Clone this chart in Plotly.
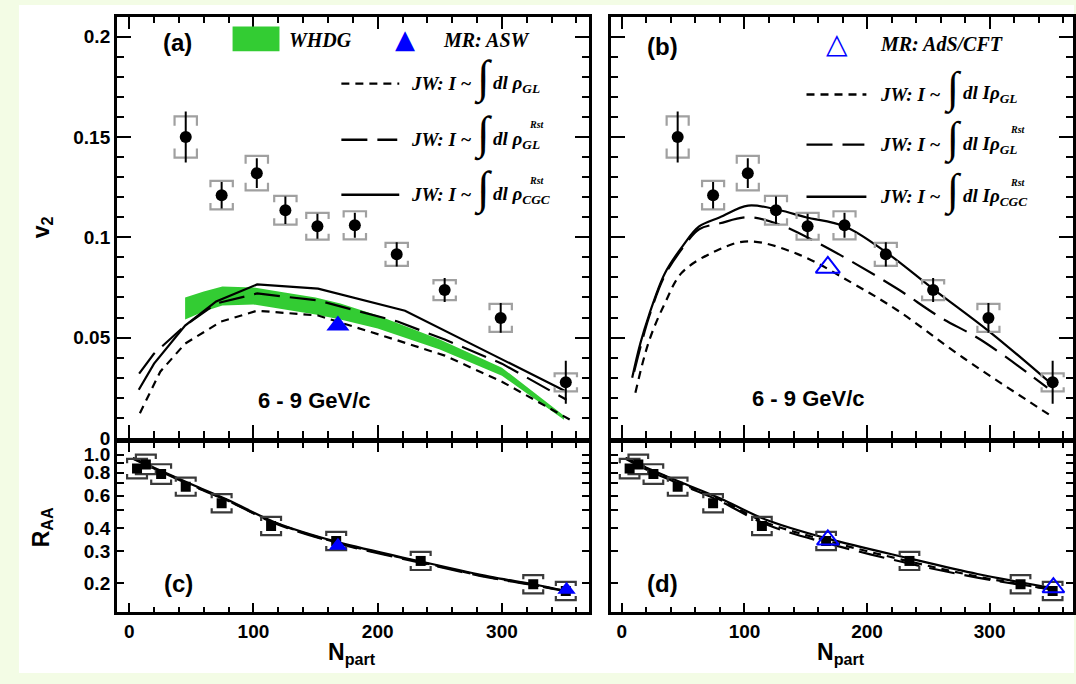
import math
import plotly.graph_objects as go

W, H = 1076, 684

# ---------------- data ----------------
npart_v2 = [45.5, 74.4, 102.7, 125.7, 151.5, 181.6, 215.3, 253.9, 299.0, 351.4]
v2 = [0.150, 0.121, 0.132, 0.1135, 0.1055, 0.106, 0.0915, 0.0737, 0.0598, 0.0277]
v2_stat = [0.0127, 0.0066, 0.0074, 0.0068, 0.0062, 0.0062, 0.0060, 0.0060, 0.0074, 0.0107]
v2_sys = [0.0103, 0.0071, 0.0086, 0.0072, 0.0067, 0.0070, 0.0057, 0.0050, 0.0070, 0.0045]

whdg_npart = [45, 60, 75, 100, 125, 150, 170, 200, 250, 300, 350]
whdg_hi = [0.070, 0.073, 0.0755, 0.075, 0.0725, 0.070, 0.067, 0.061, 0.049, 0.035, 0.011]
whdg_lo = [0.059, 0.063, 0.066, 0.0665, 0.064, 0.0615, 0.059, 0.0545, 0.044, 0.031, 0.009]

mr_npart = [168]
mr_asw_v2 = [0.056]
mr_ads_v2 = [0.085]

# panel (a) JW curves
a_gl_x = [8.6, 25, 45, 74, 103, 152, 216, 254, 300, 355]
a_gl_y = [0.0123, 0.033, 0.047, 0.058, 0.0634, 0.061, 0.0486, 0.041, 0.028, 0.009]
a_glr_x = [8, 20, 45, 70, 103, 152, 216, 254, 300, 352]
a_glr_y = [0.032, 0.042, 0.056, 0.067, 0.072, 0.0685, 0.058, 0.049, 0.037, 0.019]
a_cgc_x = [7.7, 20, 45, 70, 103, 152, 222, 296, 352]
a_cgc_y = [0.024, 0.037, 0.056, 0.068, 0.0765, 0.0744, 0.0634, 0.0405, 0.023]

# panel (b) JW curves
b_gl_x = [11, 22, 35, 49, 76, 103, 144, 187, 225, 279, 352]
b_gl_y = [0.0225, 0.048, 0.067, 0.0824, 0.093, 0.098, 0.0915, 0.0775, 0.0635, 0.0397, 0.0102]
b_glr_x = [10, 22, 35, 50, 63, 80, 103, 128, 160, 190, 225, 260, 293, 347]
b_glr_y = [0.033, 0.060, 0.081, 0.095, 0.104, 0.107, 0.110, 0.1065, 0.0972, 0.087, 0.0742, 0.060, 0.0488, 0.025]
b_cgc_x = [8.4, 15, 22, 35, 50, 63, 80, 103, 128, 150, 182, 216, 254, 300, 351]
b_cgc_y = [0.030, 0.047, 0.061, 0.082, 0.096, 0.1054, 0.110, 0.1158, 0.1136, 0.110, 0.1054, 0.0923, 0.0742, 0.0529, 0.0266]

# R_AA
npart_raa = [6.3, 13.4, 25.7, 45.5, 74.4, 114.2, 166.6, 234.6, 325.2, 351.4]
raa = [0.84, 0.885, 0.785, 0.67, 0.545, 0.41, 0.34, 0.265, 0.198, 0.182]
raa_sys = [0.13, 0.13, 0.13, 0.12, 0.12, 0.12, 0.12, 0.12, 0.12, 0.12]
mr_raa_npart = [168, 352]
mr_asw_raa = [0.32, 0.185]
mr_ads_raa = [0.345, 0.19]

raa_curve_x = [3, 20, 50, 80, 117, 168, 236, 290, 325, 352]
c_gl_raa = [0.955, 0.845, 0.685, 0.56, 0.428, 0.332, 0.26, 0.216, 0.197, 0.181]
c_glr_raa = [0.95, 0.84, 0.68, 0.56, 0.425, 0.33, 0.258, 0.215, 0.196, 0.181]
c_cgc_raa = [0.96, 0.85, 0.69, 0.565, 0.43, 0.335, 0.262, 0.218, 0.198, 0.182]
d_gl_raa = [0.96, 0.85, 0.69, 0.57, 0.43, 0.34, 0.262, 0.218, 0.198, 0.184]
d_glr_raa = [0.95, 0.83, 0.68, 0.56, 0.42, 0.33, 0.255, 0.215, 0.197, 0.185]
d_cgc_raa = [0.96, 0.85, 0.70, 0.58, 0.445, 0.35, 0.272, 0.225, 0.203, 0.188]

raa_ticks = [0.2, 0.3, 0.4, 0.6, 0.8, 1.0]
raa_ticktext = ["0.2", "0.3", "0.4", "0.6", "0.8", "1.0"]
raa_minor_ticks = [0.5, 0.7, 0.9]

# ---------------- styles ----------------
DASH_SHORT = "8px,6px"
DASH_LONG = "26px,10px"
GREEN = "#33cc33"
BLUE = "#0000ff"
SANS = "Liberation Sans"
SERIF = "Liberation Serif"


def px_x(x):
    return x / W


def px_y(y):
    return 1 - y / H


def brackets_lin(xs, ys, sys, hw, leg_frac=0.45):
    bx, by = [], []
    for x, y, s in zip(xs, ys, sys):
        hi, lo, leg = y + s, y - s, s * leg_frac
        bx += [x - hw, x - hw, x + hw, x + hw, None, x - hw, x - hw, x + hw, x + hw, None]
        by += [hi - leg, hi, hi, hi - leg, None, lo + leg, lo, lo, lo + leg, None]
    return bx, by


def brackets_log(xs, ys, frac, hw, leg_frac=0.45):
    bx, by = [], []
    for x, y, f in zip(xs, ys, frac):
        hi, lo = y * (1 + f), y / (1 + f)
        lf = (1 + f) ** leg_frac
        bx += [x - hw, x - hw, x + hw, x + hw, None, x - hw, x - hw, x + hw, x + hw, None]
        by += [hi / lf, hi, hi, hi / lf, None, lo * lf, lo, lo, lo * lf, None]
    return bx, by


fig = go.Figure()


def line(x, y, dash, xa, ya, shape="linear"):
    fig.add_trace(go.Scatter(x=x, y=y, mode="lines", xaxis=xa, yaxis=ya,
                             line=dict(color="black", width=2.2, dash=dash, shape=shape),
                             showlegend=False, hoverinfo="skip"))


# ---- panel (a) ----
fig.add_trace(go.Scatter(x=whdg_npart + whdg_npart[::-1], y=whdg_hi + whdg_lo[::-1],
                         fill="toself", fillcolor=GREEN, line=dict(width=0), mode="lines",
                         xaxis="x", yaxis="y", showlegend=False, hoverinfo="skip"))
line(a_gl_x, a_gl_y, DASH_SHORT, "x", "y")
line(a_glr_x, a_glr_y, DASH_LONG, "x", "y")
line(a_cgc_x, a_cgc_y, "solid", "x", "y")

# ---- panel (b) ----
line(b_gl_x, b_gl_y, DASH_SHORT, "x2", "y2", "spline")
line(b_glr_x, b_glr_y, DASH_LONG, "x2", "y2", "spline")
line(b_cgc_x, b_cgc_y, "solid", "x2", "y2", "spline")

for xa, ya in [("x", "y"), ("x2", "y2")]:
    bx, by = brackets_lin(npart_v2, v2, v2_sys, 9)
    fig.add_trace(go.Scatter(x=bx, y=by, mode="lines", xaxis=xa, yaxis=ya,
                             line=dict(color="#a0a0a0", width=2.2),
                             showlegend=False, hoverinfo="skip"))
    fig.add_trace(go.Scatter(x=npart_v2, y=v2, mode="markers", xaxis=xa, yaxis=ya,
                             marker=dict(symbol="circle", size=12, color="black"),
                             error_y=dict(type="data", array=v2_stat, color="black",
                                          thickness=2, width=0),
                             showlegend=False))

fig.add_trace(go.Scatter(x=mr_npart, y=mr_asw_v2, mode="markers", xaxis="x", yaxis="y",
                         marker=dict(symbol="triangle-up", size=20, color=BLUE),
                         showlegend=False))
fig.add_trace(go.Scatter(x=mr_npart, y=mr_ads_v2, mode="markers", xaxis="x2", yaxis="y2",
                         marker=dict(symbol="triangle-up-open", size=21, color=BLUE,
                                     line=dict(width=2, color=BLUE)),
                         showlegend=False))

# ---- panels (c), (d) ----
line(raa_curve_x, c_gl_raa, DASH_SHORT, "x3", "y3", "spline")
line(raa_curve_x, c_glr_raa, DASH_LONG, "x3", "y3", "spline")
line(raa_curve_x, c_cgc_raa, "solid", "x3", "y3", "spline")
line(raa_curve_x, d_gl_raa, DASH_SHORT, "x4", "y4", "spline")
line(raa_curve_x, d_glr_raa, DASH_LONG, "x4", "y4", "spline")
line(raa_curve_x, d_cgc_raa, "solid", "x4", "y4", "spline")

for xa, ya in [("x3", "y3"), ("x4", "y4")]:
    bx, by = brackets_log(npart_raa, raa, raa_sys, 8)
    fig.add_trace(go.Scatter(x=bx, y=by, mode="lines", xaxis=xa, yaxis=ya,
                             line=dict(color="#3a3a3a", width=2.2),
                             showlegend=False, hoverinfo="skip"))
    fig.add_trace(go.Scatter(x=npart_raa, y=raa, mode="markers", xaxis=xa, yaxis=ya,
                             marker=dict(symbol="square", size=10, color="black"),
                             showlegend=False))

fig.add_trace(go.Scatter(x=mr_raa_npart, y=mr_asw_raa, mode="markers", xaxis="x3", yaxis="y3",
                         marker=dict(symbol="triangle-up", size=16, color=BLUE),
                         showlegend=False))
fig.add_trace(go.Scatter(x=mr_raa_npart, y=mr_ads_raa, mode="markers", xaxis="x4", yaxis="y4",
                         marker=dict(symbol="triangle-up-open", size=19, color=BLUE,
                                     line=dict(width=2, color=BLUE)),
                         showlegend=False))

# ---------------- axes ----------------
tickfont = dict(family=SANS, size=19, color="black", weight="bold")
base = dict(showline=True, linecolor="black", linewidth=2.5, mirror="ticks",
            ticks="inside", tickcolor="black", tickwidth=2, showgrid=False,
            zeroline=False, tickfont=tickfont)

xa_dom = [px_x(117), px_x(590)]
xb_dom = [px_x(612), px_x(1075)]
ytop_dom = [px_y(445), px_y(17)]
ybot_dom = [px_y(622), px_y(450)]


def xaxis(dom, anchor, rng, labels, ticklen, mlen):
    return dict(base, domain=dom, anchor=anchor, range=rng, tick0=0, dtick=100,
                ticklen=ticklen, showticklabels=labels,
                minor=dict(ticks="inside", tick0=0, dtick=20, ticklen=mlen, tickwidth=1.5,
                           tickcolor="black"))


def ytop(anchor, labels):
    return dict(base, domain=ytop_dom, anchor=anchor, range=[0, 0.21], tick0=0,
                dtick=0.05, ticklen=14, showticklabels=labels,
                minor=dict(ticks="inside", tick0=0, dtick=0.01, ticklen=7, tickwidth=1.5,
                           tickcolor="black"))


def ybot(anchor, labels):
    return dict(base, domain=ybot_dom, anchor=anchor, type="log",
                range=[math.log10(0.14), math.log10(1.16)], tickmode="array",
                tickvals=raa_ticks, ticktext=raa_ticktext, ticklen=7,
                showticklabels=labels,
                minor=dict(ticks="inside", tickmode="array", tickvals=raa_minor_ticks,
                           ticklen=7, tickwidth=2, tickcolor="black"))


fig.update_layout(
    width=W, height=H, margin=dict(l=0, r=0, t=0, b=0),
    paper_bgcolor="#f3fce5", plot_bgcolor="white", showlegend=False,
    xaxis=xaxis(xa_dom, "y", [-10, 370], False, 13, 7),
    yaxis=ytop("x", True),
    xaxis2=xaxis(xb_dom, "y2", [-9, 368], False, 13, 7),
    yaxis2=ytop("x2", False),
    xaxis3=xaxis(xa_dom, "y3", [-10, 370], True, 9, 5),
    yaxis3=ybot("x3", True),
    xaxis4=xaxis(xb_dom, "y4", [-9, 368], True, 9, 5),
    yaxis4=ybot("x4", False),
)

shapes = [dict(type="rect", xref="paper", yref="paper", x0=px_x(19), x1=1, y0=0,
               y1=px_y(5), fillcolor="white", line=dict(width=0), layer="below")]


def lshape(x0, x1, y, dash):
    return dict(type="line", xref="paper", yref="paper", x0=px_x(x0), x1=px_x(x1),
                y0=px_y(y), y1=px_y(y), line=dict(color="black", width=2.4, dash=dash))


shapes += [lshape(342, 400, 85, DASH_SHORT), lshape(342, 398, 142, DASH_LONG),
           lshape(342, 400, 198, "solid"),
           lshape(808, 868, 96, DASH_SHORT), lshape(808, 866, 147, DASH_LONG),
           lshape(808, 868, 200, "solid"),
           dict(type="rect", xref="paper", yref="paper", x0=px_x(233), x1=px_x(280),
                y0=px_y(52), y1=px_y(27), fillcolor=GREEN, line=dict(width=0))]
fig.update_layout(shapes=shapes)

anns = []


def ann(text, x, y, size, family=SANS, weight="bold", style="normal", xanchor="center",
        color="black", angle=0):
    anns.append(dict(text=text, x=px_x(x), y=px_y(y), xref="paper", yref="paper",
                     showarrow=False, xanchor=xanchor, yanchor="middle", textangle=angle,
                     font=dict(family=family, size=size, color=color, weight=weight,
                               style=style)))


ann("(a)", 178, 43, 24)
ann("(b)", 664, 47, 24)
ann("(c)", 179, 593, 24)
ann("(d)", 664, 593, 24)
ann("6 - 9 GeV/c", 315, 407, 22)
ann("6 - 9 GeV/c", 810, 405, 22)
ann("v<sub>2</sub>", 42, 231, 23, angle=-90)
ann("R<sub>AA</sub>", 42, 536, 23, angle=-90)
ann("N<sub>part</sub>", 353, 664, 23)
ann("N<sub>part</sub>", 843, 664, 23)

# legend texts (a)
ann("WHDG", 288, 41, 20, SERIF, "bold", "italic", "left")
ann("▲", 406, 40, 26, "DejaVu Sans", "normal", "normal", "center", BLUE)
ann("MR: ASW", 442, 41, 20, SERIF, "bold", "italic", "left")
for y, sub, sup in [(85, "GL", ""), (142, "GL", "Rst"), (198, "CGC", "Rst")]:
    ann("JW: I ~", 410, y, 19, SERIF, "bold", "italic", "left")
    ann("∫", 484, y - 6, 46, SERIF, "normal", "italic", "center")
    ann("dl ρ<sub>%s</sub>" % sub, 492, y, 19, SERIF, "bold", "italic", "left")
    if sup:
        ann(sup, 528, y - 15, 10, SERIF, "bold", "italic", "left")

# legend texts (b)
ann("△", 839, 44, 28, "DejaVu Sans", "normal", "normal", "center", BLUE)
ann("MR: AdS/CFT", 880, 45, 20, SERIF, "bold", "italic", "left")
for y, sub, sup in [(96, "GL", ""), (147, "GL", "Rst"), (200, "CGC", "Rst")]:
    ann("JW: I ~", 880, y, 19, SERIF, "bold", "italic", "left")
    ann("∫", 955, y - 6, 44, SERIF, "normal", "italic", "center")
    ann("dl Iρ<sub>%s</sub>" % sub, 963, y, 19, SERIF, "bold", "italic", "left")
    if sup:
        ann(sup, 1010, y - 15, 10, SERIF, "bold", "italic", "left")

fig.update_layout(annotations=anns)
fig.write_html("out.html")
